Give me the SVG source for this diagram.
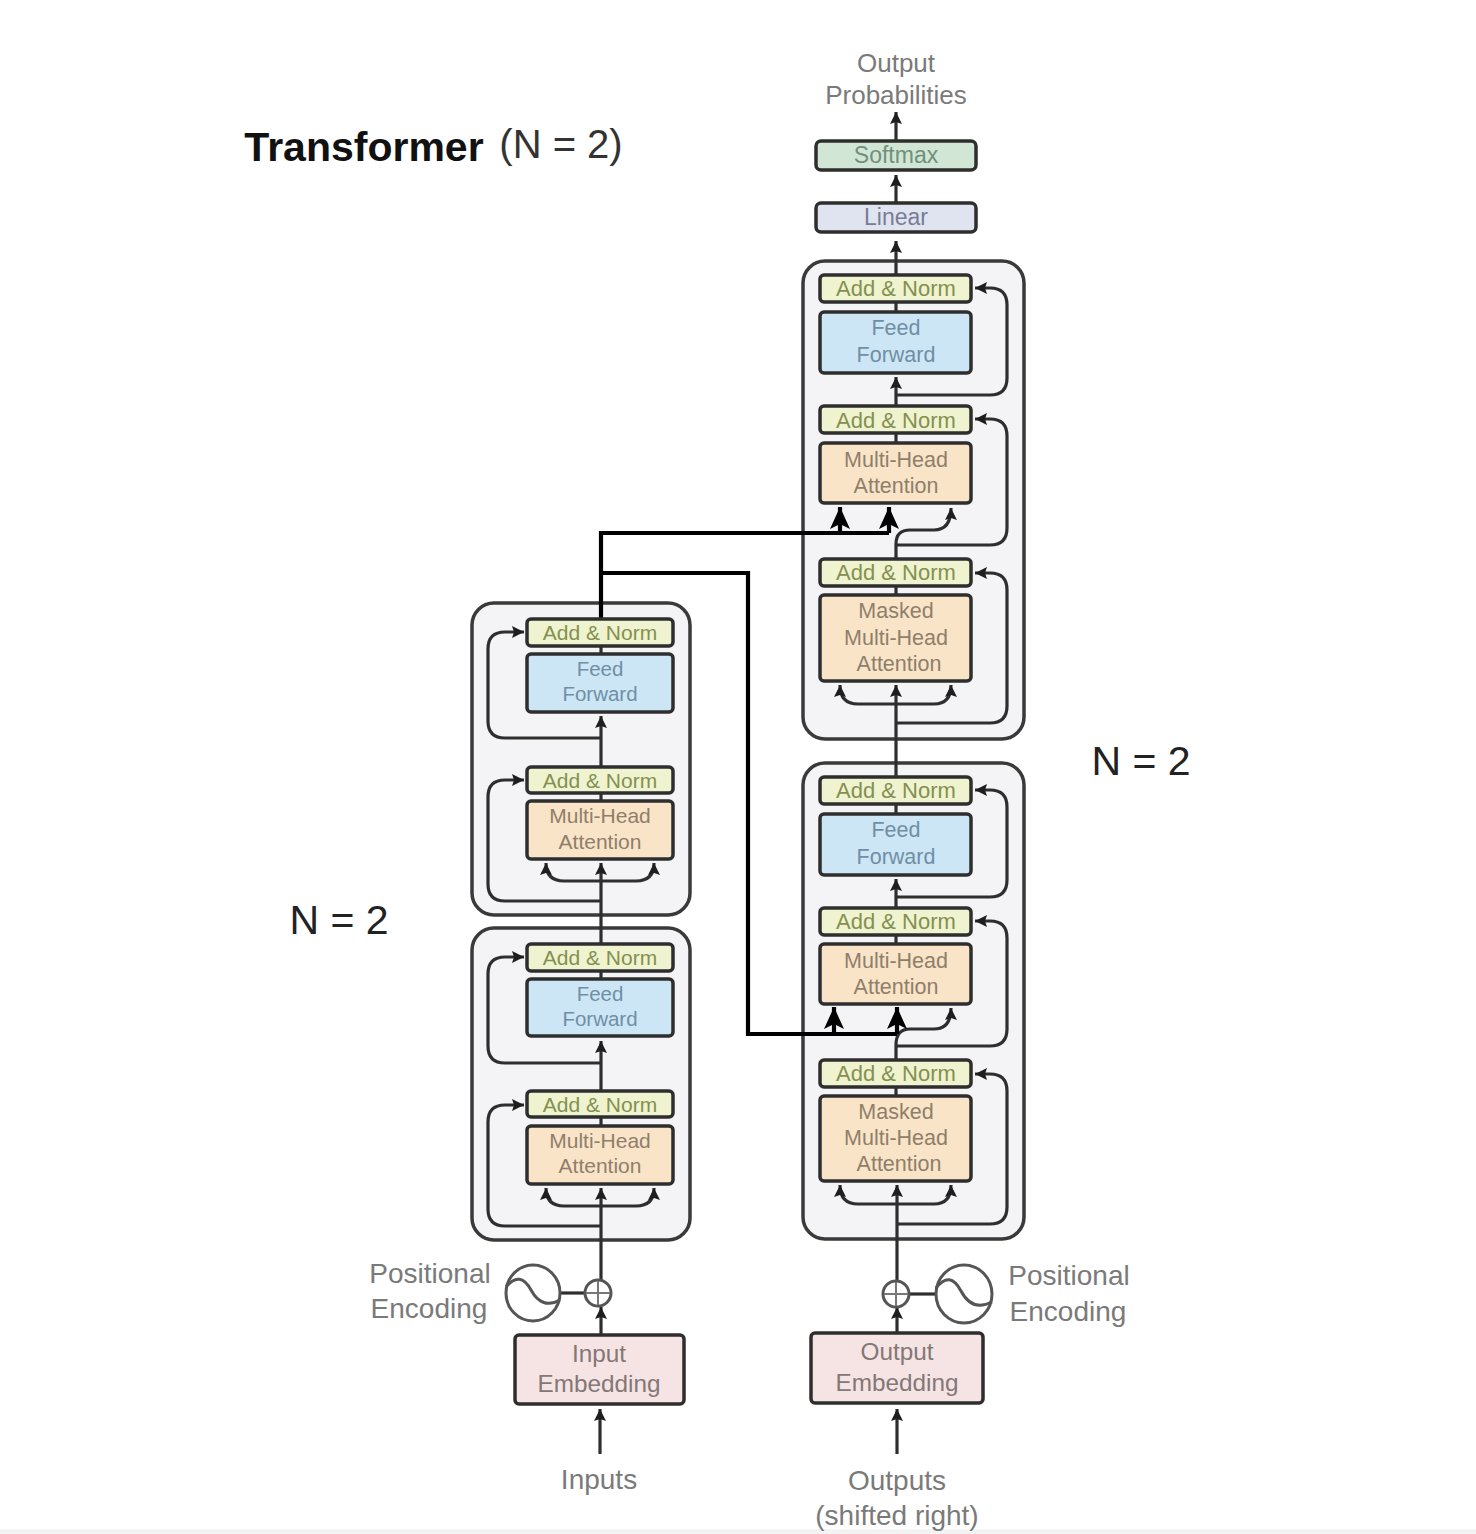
<svg xmlns="http://www.w3.org/2000/svg" width="1476" height="1534" viewBox="0 0 1476 1534">
<style>
text{font-family:"Liberation Sans",Arial,sans-serif;text-anchor:middle;fill:#7a7a7a}
.block{fill:#f4f4f6;stroke:#3a3a3a;stroke-width:3.5}
.box{stroke:#2e2e2e;stroke-width:3.5}
.an{fill:#eff3d0}.ff{fill:#cde6f5}.mh{fill:#f9e4c8}.em{fill:#f6e4e4}.sm{fill:#d2e6d6}.li{fill:#e0e3f0}
.tan{fill:#84904f;font-size:22px}
.ean{fill:#84904f;font-size:21px}
.tff{fill:#6f8fa5;font-size:21.5px}
.eff{fill:#6f8fa5;font-size:20.5px}
.tmh{fill:#8f7f6a;font-size:21.5px}
.emh{fill:#8f7f6a;font-size:21px}
.tem{fill:#837777;font-size:24.3px}
.lab{font-size:28px}
.c{fill:none;stroke:#2e2e2e;stroke-width:3.2}
.a{marker-end:url(#ah)}
.k{fill:none;stroke:#000;stroke-width:4.2}
.ka{marker-end:url(#bh)}
.ring{fill:#fff;stroke:#555;stroke-width:3}
</style>
<defs>
<marker id="ah" markerUnits="userSpaceOnUse" markerWidth="13" markerHeight="14" refX="12" refY="7" orient="auto"><path d="M0,1 L12,7 L0,13 L2,7 Z" fill="#1e1e1e"/></marker>
<marker id="bh" markerUnits="userSpaceOnUse" markerWidth="24" markerHeight="24" refX="22" refY="12" orient="auto"><path d="M0,2 L22,12 L0,22 L5,12 Z" fill="#000"/></marker>
</defs>
<rect width="1476" height="1534" fill="#fff"/>
<rect y="1529" width="1476" height="5" fill="#f3f3f3"/>

<g id="title"><text x="364" y="161" style="font-size:41px;font-weight:bold;fill:#111">Transformer</text><text x="561" y="158" style="font-size:40px;fill:#333">(N = 2)</text></g>
<g id="n-dec"><text x="1141" y="775" style="font-size:41px;fill:#222">N = 2</text></g>
<g id="n-enc"><text x="339" y="934" style="font-size:41px;fill:#222">N = 2</text></g>

<g id="dec-block-1"><rect class="block" x="803" y="261" width="221" height="478" rx="22"/></g>
<g id="dec-block-2"><rect class="block" x="803" y="763" width="221" height="476" rx="22"/></g>
<g id="enc-block-1"><rect class="block" x="472" y="603" width="218" height="312" rx="22"/></g>
<g id="enc-block-2"><rect class="block" x="472" y="928" width="218" height="312" rx="22"/></g>

<g id="connectors">
<path class="c a" d="M896,140V112"/>
<path class="c a" d="M896,202V175"/>
<path class="c a" d="M896,274V241"/>
<path class="c" d="M896,302V312"/>
<path class="c a" d="M896,405V377"/>
<path class="c a" d="M896,395H990Q1007,395 1007,378V305Q1007,288 990,288H975"/>
<path class="c" d="M896,433V443"/>
<path class="c a" d="M896,545H990Q1007,545 1007,528V436Q1007,419 990,419H975"/>
<path class="c a" d="M896,558V544Q896,530 910,530H934Q951,530 951,508"/>
<path class="c" d="M896,586V595"/>
<path class="c a" d="M896,723H990Q1007,723 1007,706V590Q1007,573 990,573H975"/>
<path class="c a" d="M896,776V685"/>
<path class="c a" d="M858,704Q840,704 840,685"/>
<path class="c a" d="M896,704H934Q951,704 951,685"/>
<path class="c" d="M858,704H896"/>

<path class="c" d="M896,804V814"/>
<path class="c a" d="M896,907V879"/>
<path class="c a" d="M896,897H990Q1007,897 1007,880V807Q1007,790 990,790H975"/>
<path class="c" d="M896,935V944"/>
<path class="c a" d="M896,1046H990Q1007,1046 1007,1029V938Q1007,921 990,921H975"/>
<path class="c a" d="M896,1059V1045Q896,1029 910,1029H934Q951,1029 951,1008"/>
<path class="c" d="M896,1087V1096"/>
<path class="c a" d="M896,1224H990Q1007,1224 1007,1207V1091Q1007,1074 990,1074H975"/>
<path class="c a" d="M897,1280V1185"/>
<path class="c a" d="M858,1204Q840,1204 840,1185"/>
<path class="c a" d="M896,1204H934Q951,1204 951,1185"/>
<path class="c" d="M858,1204H896"/>

<path class="c" d="M601,646V654"/>
<path class="c a" d="M601,767V716"/>
<path class="c a" d="M601,738H505Q488,738 488,721V649Q488,632 505,632H524"/>
<path class="c" d="M601,793V801"/>
<path class="c a" d="M601,901H505Q488,901 488,884V797Q488,780 505,780H524"/>
<path class="c a" d="M601,944V863"/>
<path class="c a" d="M564,881Q546,881 546,863"/>
<path class="c a" d="M601,881H636Q654,881 654,863"/>
<path class="c" d="M564,881H601"/>

<path class="c" d="M601,971V979"/>
<path class="c a" d="M601,1091V1041"/>
<path class="c a" d="M601,1063H505Q488,1063 488,1046V974Q488,957 505,957H524"/>
<path class="c" d="M601,1117V1126"/>
<path class="c a" d="M601,1226H505Q488,1226 488,1209V1122Q488,1105 505,1105H524"/>
<path class="c a" d="M601,1280V1188"/>
<path class="c a" d="M564,1206Q546,1206 546,1188"/>
<path class="c a" d="M601,1206H636Q654,1206 654,1188"/>
<path class="c" d="M564,1206H601"/>

<path class="c a" d="M601,1335V1307"/>
<path class="c a" d="M897,1333V1307"/>
<path class="c a" d="M600,1454V1409"/>
<path class="c a" d="M897,1454V1409"/>
<path class="c" d="M560,1293H585"/>
<path class="c" d="M909,1294H936"/>

<path class="k" d="M601,619V533H889"/>
<path class="k ka" d="M840,533V507"/>
<path class="k ka" d="M889,533V507"/>
<path class="k" d="M601,573H748V1034H897"/>
<path class="k ka" d="M834,1034V1007"/>
<path class="k ka" d="M897,1034V1007"/>
</g>

<g id="out-prob"><text x="896" y="72" style="font-size:26px">Output</text><text x="896" y="104" style="font-size:26px">Probabilities</text></g>
<g id="softmax"><rect class="box sm" x="816" y="141" width="160" height="29" rx="5"/><text x="896" y="163" style="font-size:23px;fill:#71907b">Softmax</text></g>
<g id="linear"><rect class="box li" x="816" y="203" width="160" height="29" rx="5"/><text x="896" y="225" style="font-size:23px;fill:#787d93">Linear</text></g>

<g id="d1-an3"><rect class="box an" x="820" y="275" width="151" height="27" rx="4"/><text class="tan" x="896" y="296">Add &amp; Norm</text></g>
<g id="d1-ff"><rect class="box ff" x="820" y="312" width="151" height="61" rx="4"/><text class="tff" x="896" y="335">Feed</text><text class="tff" x="896" y="362">Forward</text></g>
<g id="d1-an2"><rect class="box an" x="820" y="406" width="151" height="27" rx="4"/><text class="tan" x="896" y="428">Add &amp; Norm</text></g>
<g id="d1-mh"><rect class="box mh" x="820" y="443" width="151" height="60" rx="4"/><text class="tmh" x="896" y="467">Multi-Head</text><text class="tmh" x="896" y="493">Attention</text></g>
<g id="d1-an1"><rect class="box an" x="820" y="559" width="151" height="27" rx="4"/><text class="tan" x="896" y="580">Add &amp; Norm</text></g>
<g id="d1-mm"><rect class="box mh" x="820" y="595" width="151" height="86" rx="4"/><text class="tmh" x="896" y="618">Masked</text><text class="tmh" x="896" y="645">Multi-Head</text><text class="tmh" x="899" y="671">Attention</text></g>

<g id="d2-an3"><rect class="box an" x="820" y="777" width="151" height="27" rx="4"/><text class="tan" x="896" y="798">Add &amp; Norm</text></g>
<g id="d2-ff"><rect class="box ff" x="820" y="814" width="151" height="61" rx="4"/><text class="tff" x="896" y="837">Feed</text><text class="tff" x="896" y="864">Forward</text></g>
<g id="d2-an2"><rect class="box an" x="820" y="908" width="151" height="27" rx="4"/><text class="tan" x="896" y="929">Add &amp; Norm</text></g>
<g id="d2-mh"><rect class="box mh" x="820" y="944" width="151" height="60" rx="4"/><text class="tmh" x="896" y="968">Multi-Head</text><text class="tmh" x="896" y="994">Attention</text></g>
<g id="d2-an1"><rect class="box an" x="820" y="1060" width="151" height="27" rx="4"/><text class="tan" x="896" y="1081">Add &amp; Norm</text></g>
<g id="d2-mm"><rect class="box mh" x="820" y="1096" width="151" height="85" rx="4"/><text class="tmh" x="896" y="1119">Masked</text><text class="tmh" x="896" y="1145">Multi-Head</text><text class="tmh" x="899" y="1171">Attention</text></g>

<g id="e1-an2"><rect class="box an" x="527" y="619" width="146" height="27" rx="4"/><text class="ean" x="600" y="640">Add &amp; Norm</text></g>
<g id="e1-ff"><rect class="box ff" x="527" y="654" width="146" height="58" rx="4"/><text class="eff" x="600" y="676">Feed</text><text class="eff" x="600" y="701">Forward</text></g>
<g id="e1-an1"><rect class="box an" x="527" y="767" width="146" height="26" rx="4"/><text class="ean" x="600" y="788">Add &amp; Norm</text></g>
<g id="e1-mh"><rect class="box mh" x="527" y="801" width="146" height="58" rx="4"/><text class="emh" x="600" y="823">Multi-Head</text><text class="emh" x="600" y="849">Attention</text></g>
<g id="e2-an2"><rect class="box an" x="527" y="944" width="146" height="27" rx="4"/><text class="ean" x="600" y="965">Add &amp; Norm</text></g>
<g id="e2-ff"><rect class="box ff" x="527" y="979" width="146" height="57" rx="4"/><text class="eff" x="600" y="1001">Feed</text><text class="eff" x="600" y="1026">Forward</text></g>
<g id="e2-an1"><rect class="box an" x="527" y="1091" width="146" height="26" rx="4"/><text class="ean" x="600" y="1112">Add &amp; Norm</text></g>
<g id="e2-mh"><rect class="box mh" x="527" y="1126" width="146" height="58" rx="4"/><text class="emh" x="600" y="1148">Multi-Head</text><text class="emh" x="600" y="1173">Attention</text></g>

<g id="enc-plus"><circle class="ring" cx="598" cy="1293" r="13"/><path d="M586,1293H610M598,1281V1305" stroke="#777" stroke-width="2" fill="none"/></g>
<g id="enc-sine"><ellipse class="ring" cx="533" cy="1293" rx="27" ry="28"/><path d="M506,1287Q520,1270 531,1290T560,1300" stroke="#555" stroke-width="3" fill="none"/></g>
<g id="dec-plus"><circle class="ring" cx="896" cy="1294" r="13"/><path d="M884,1294H908M896,1282V1306" stroke="#777" stroke-width="2" fill="none"/></g>
<g id="dec-sine"><ellipse class="ring" cx="964" cy="1294" rx="28" ry="29"/><path d="M936,1288Q950,1270 961,1291T992,1302" stroke="#555" stroke-width="3" fill="none"/></g>
<g id="pos-enc-l"><text class="lab" x="430" y="1283">Positional</text><text class="lab" x="429" y="1318">Encoding</text></g>
<g id="pos-enc-r"><text class="lab" x="1069" y="1285">Positional</text><text class="lab" x="1068" y="1321">Encoding</text></g>
<g id="input-emb"><rect class="box em" x="515" y="1335" width="169" height="69" rx="4"/><text class="tem" x="599" y="1362">Input</text><text class="tem" x="599" y="1392">Embedding</text></g>
<g id="output-emb"><rect class="box em" x="811" y="1333" width="172" height="70" rx="4"/><text class="tem" x="897" y="1360">Output</text><text class="tem" x="897" y="1391">Embedding</text></g>
<g id="inputs"><text class="lab" x="599" y="1489">Inputs</text></g>
<g id="outputs"><text class="lab" x="897" y="1490">Outputs</text><text class="lab" x="897" y="1525">(shifted right)</text></g>
</svg>
